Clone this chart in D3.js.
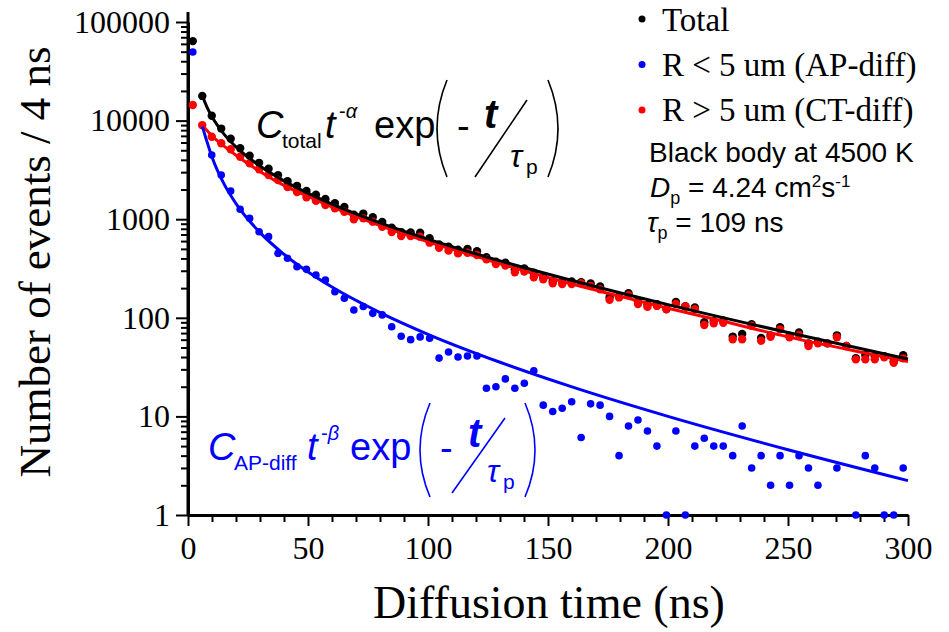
<!DOCTYPE html>
<html>
<head>
<meta charset="utf-8">
<script src="https://cdn.jsdelivr.net/npm/d3@7"></script>
<style>
  body { margin: 0; background: #fff; }
  svg { display: block; }
  .serif { font-family: "Liberation Serif", "Times New Roman", serif; }
  .sans { font-family: "Liberation Sans", Arial, sans-serif; }
</style>
</head>
<body>
<div id="chart"></div>
<script>
// ---- data ----
// 4 ns bins, first bin centre at 2 ns
const binTimes = d3.range(76).map(k => 2 + k * 296 / 75);

const totalCounts = [64000, 17800, 11200, 8300, 6550, 5250, 4400, 3730, 3250, 2800,
  2430, 2180, 1930, 1770, 1600, 1450, 1330, 1110, 1140, 1050,
  940, 820, 740, 735, 728, 640, 553, 525, 491, 498,
  474, 411, 371, 362, 308, 316, 287, 259, 235, 232,
  234, 230, 223, 208, 162, 165, 178, 147, 136, 137,
  123, 145, 131, 127, 90, 93, 94, 64.5, 68.5, 86,
  62.6, 66.3, 80.4, 65.4, 71, 54.8, 57.1, 55, 66.4, 51.8,
  38.9, 42, 41, 40.7, 36, 41.8];

const apCounts = [49700, 8900, 4480, 2800, 1930, 1260, 1020, 747, 665, 451,
  402, 330, 310, 272, 242, 184, 158, 120, 130, 111,
  107, 81, 65, 60, 64, 62, 39, 45, 40, 41,
  41, 19.3, 20, 24, 19.3, 21.7, 29, 13, 11.2, 12.1,
  14.1, 6.1, 13.4, 13, 10, 4, 8, 9.2, 7.1, 5,
  1, 7.1, 1, 5, 6, 5, 5, 4, 8, 3,
  4, 2, 4, 2, 4, 3, 2, null, 3, null,
  1, 4, 3, 1, 1, 3];

const ctCounts = [14400, 9000, 6870, 5890, 5120, 4300, 3690, 3210, 2810, 2500,
  2120, 1890, 1670, 1540, 1390, 1290, 1190, 998, 1020, 944,
  839, 741, 676, 676, 665, 578, 514, 480, 451, 457,
  433, 392, 351, 338, 289, 294, 258, 246, 224, 220,
  220, 224, 210, 195, 152, 161, 170, 138, 129, 132,
  122, 138, 130, 122, 84.5, 88, 89, 60.5, 60.5, 83,
  58.6, 64.3, 76.4, 63.4, 67, 51.8, 55.1, 55, 63.4, 51.8,
  37.9, 38, 38, 39.7, 35, 38.8];

// fitted curves
const fitTimes  = [6, 8, 10, 15, 20, 30, 40, 60, 80, 100, 130, 160, 200, 250, 300];
const fitTotal  = [17750, 13550, 10930, 7300, 5410, 3460, 2445, 1422, 919, 628, 378, 239, 136, 70.8, 38.1];
const fitAP     = [8700, 6010, 4280, 2280, 1440, 731, 441, 205, 113, 68, 35.4, 19.9, 10.0, 4.59, 2.23];
const fitCTTimes = [6, 8, 10, 15, 20, 30, 40, 50, 60, 80, 100, 120, 140, 160, 180, 200, 220, 250, 280, 300];
const fitCT      = [9000, 7900, 7000, 5500, 4450, 3050, 2200, 1700, 1330, 860, 590, 420, 300, 220, 165, 125, 96, 64, 45, 36];

const xTicks = [0, 50, 100, 150, 200, 250, 300];
const yTicks = [1, 10, 100, 1000, 10000, 100000];

const legendItems = [
  {label: "Total", color: "#000"},
  {label: "R < 5 um (AP-diff)", color: "#0000ff"},
  {label: "R > 5 um (CT-diff)", color: "#ff0000"}
];

// ---- layout ----
const width = 949, height = 632;
const svg = d3.select("#chart").append("svg")
    .attr("width", width)
    .attr("height", height);

const x = d3.scaleLinear().domain([0, 300]).range([188, 908]);
const y = d3.scaleLog().domain([1, 100000]).range([515, 22]);

// axes
const minorX = d3.range(0, 301, 10).filter(v => v % 50 !== 0);
svg.append("g")
    .attr("transform", "translate(0,515)")
    .call(d3.axisBottom(x).tickValues(minorX).tickSize(7).tickFormat(""))
    .call(g => g.select(".domain").remove());
svg.append("g")
    .attr("transform", "translate(0,515)")
    .call(d3.axisBottom(x).tickValues(xTicks).tickSize(11).tickPadding(10).tickSizeOuter(0))
    .call(g => g.selectAll("text").attr("font-size", 32).attr("fill", "#000").attr("font-family", "Liberation Serif"));

const minorY = y.ticks().filter(v => !yTicks.includes(v));
svg.append("g")
    .attr("transform", "translate(188,0)")
    .call(d3.axisLeft(y).tickValues(minorY).tickSize(7).tickFormat(""))
    .call(g => g.select(".domain").remove());
svg.append("g")
    .attr("transform", "translate(188,0)")
    .call(d3.axisLeft(y).tickValues(yTicks).tickSize(12).tickPadding(6).tickFormat(d3.format("d")).tickSizeOuter(0))
    .call(g => g.selectAll("text").attr("font-size", 32).attr("fill", "#000").attr("font-family", "Liberation Serif"));

svg.selectAll(".domain").attr("stroke-width", 3);
svg.selectAll(".tick line").attr("stroke-width", 2);
// left axis runs a bit above the top decade
svg.append("line").attr("x1", 188).attr("x2", 188).attr("y1", 12).attr("y2", 516)
    .attr("stroke", "#000").attr("stroke-width", 3);

// axis titles
svg.append("text").attr("class", "serif")
    .attr("x", 549).attr("y", 618)
    .attr("text-anchor", "middle")
    .attr("font-size", 46)
    .text("Diffusion time (ns)");
svg.append("text").attr("class", "serif")
    .attr("transform", "translate(50,262) rotate(-90)")
    .attr("text-anchor", "middle")
    .attr("font-size", 45)
    .text("Number of events / 4 ns");

// ---- points ----
function dots(values, color, r) {
    svg.append("g").selectAll("circle")
        .data(values.map((v, i) => ({t: binTimes[i], v})).filter(d => d.v != null))
        .join("circle")
        .attr("cx", d => x(d.t))
        .attr("cy", d => y(d.v))
        .attr("r", r)
        .attr("fill", color);
}
dots(totalCounts, "#000", 4.2);
dots(apCounts, "#0000ff", 3.8);
dots(ctCounts, "#ff0000", 4.2);

// ---- fit lines ----
const line = d3.line().x(d => x(d[0])).y(d => y(d[1])).curve(d3.curveMonotoneX);
function fit(ts, vs, color) {
    svg.append("path")
        .datum(ts.map((t, i) => [t, vs[i]]))
        .attr("d", line)
        .attr("fill", "none")
        .attr("stroke", color)
        .attr("stroke-width", 3);
}
fit(fitCTTimes, fitCT, "#ff0000");
fit(fitTimes, fitTotal, "#000");
fit(fitTimes, fitAP, "#0000ff");

// ---- legend ----
const legend = svg.append("g").attr("class", "serif");
legendItems.forEach((d, i) => {
    legend.append("circle").attr("cx", 642).attr("cy", 19 + i * 45.5).attr("r", 3.5).attr("fill", d.color);
    legend.append("text").attr("x", 662).attr("y", 31 + i * 45)
        .attr("font-size", 33).text(d.label);
});

// ---- annotations ----
const note = svg.append("g").attr("class", "sans").attr("font-size", 28);
note.append("text").attr("x", 649).attr("y", 162).text("Black body at 4500 K");
const dp = note.append("text").attr("x", 650).attr("y", 197);
dp.append("tspan").attr("font-style", "italic").text("D");
dp.append("tspan").attr("font-size", 18).attr("dy", 7).text("p");
dp.append("tspan").attr("dy", -7).text(" = 4.24 cm");
dp.append("tspan").attr("font-size", 17).attr("dy", -10).text("2");
dp.append("tspan").attr("dy", 10).text("s");
dp.append("tspan").attr("font-size", 17).attr("dy", -10).text("-1");
const tp = note.append("text").attr("x", 647).attr("y", 232);
tp.append("tspan").attr("font-style", "italic").text("τ");
tp.append("tspan").attr("font-size", 18).attr("dy", 7).text("p");
tp.append("tspan").attr("dy", -7).text(" = 109 ns");

// ---- fit formulas ----
function formula(p, color, sub, power) {
    const f = svg.append("g").attr("class", "sans").attr("fill", color);
    f.append("text").attr("x", p.x).attr("y", p.y).attr("font-size", 38).attr("font-style", "italic").text("C");
    f.append("text").attr("x", p.x + 26).attr("y", p.y + 10).attr("font-size", 21).text(sub);
    f.append("text").attr("x", p.tx).attr("y", p.y).attr("font-size", 38).attr("font-style", "italic").text("t");
    const sup = f.append("text").attr("x", p.tx + 14).attr("y", p.y - 20).attr("font-size", 20);
    sup.append("tspan").text("-");
    sup.append("tspan").attr("font-style", "italic").text(power);
    f.append("text").attr("x", p.ex).attr("y", p.y).attr("font-size", 38).text("exp");
    f.append("path").attr("d", `M${p.lp + 12},${p.top} Q${p.lp - 8},${(p.top + p.bot) / 2} ${p.lp + 12},${p.bot}`)
        .attr("fill", "none").attr("stroke", color).attr("stroke-width", 1.6);
    f.append("text").attr("x", p.lp + 22).attr("y", p.y + 1).attr("font-size", 38).text("-");
    f.append("text").attr("x", p.nx).attr("y", p.ny).attr("font-size", 40).attr("font-style", "italic")
        .attr("font-weight", "bold").text("t");
    f.append("line").attr("x1", p.s1[0]).attr("y1", p.s1[1]).attr("x2", p.s2[0]).attr("y2", p.s2[1])
        .attr("stroke", color).attr("stroke-width", 1.6);
    f.append("text").attr("x", p.dx).attr("y", p.dy).attr("font-size", 32).attr("font-style", "italic").text("τ");
    f.append("text").attr("x", p.dx + 16).attr("y", p.dy + 7).attr("font-size", 21).text("p");
    f.append("path").attr("d", `M${p.rp - 12},${p.top} Q${p.rp + 8},${(p.top + p.bot) / 2} ${p.rp - 12},${p.bot}`)
        .attr("fill", "none").attr("stroke", color).attr("stroke-width", 1.6);
}
formula({x: 256, y: 138, tx: 325, ex: 374, lp: 435, top: 80, bot: 177,
    nx: 484, ny: 128, s1: [475, 177], s2: [527, 100], dx: 510, dy: 167, rp: 560}, "#000", "total", "α");
formula({x: 208, y: 460, tx: 307, ex: 350, lp: 418, top: 403, bot: 497,
    nx: 468, ny: 447, s1: [452, 493], s2: [505, 418], dx: 487, dy: 482, rp: 537}, "#0000ff", "AP-diff", "β");
</script>
</body>
</html>
